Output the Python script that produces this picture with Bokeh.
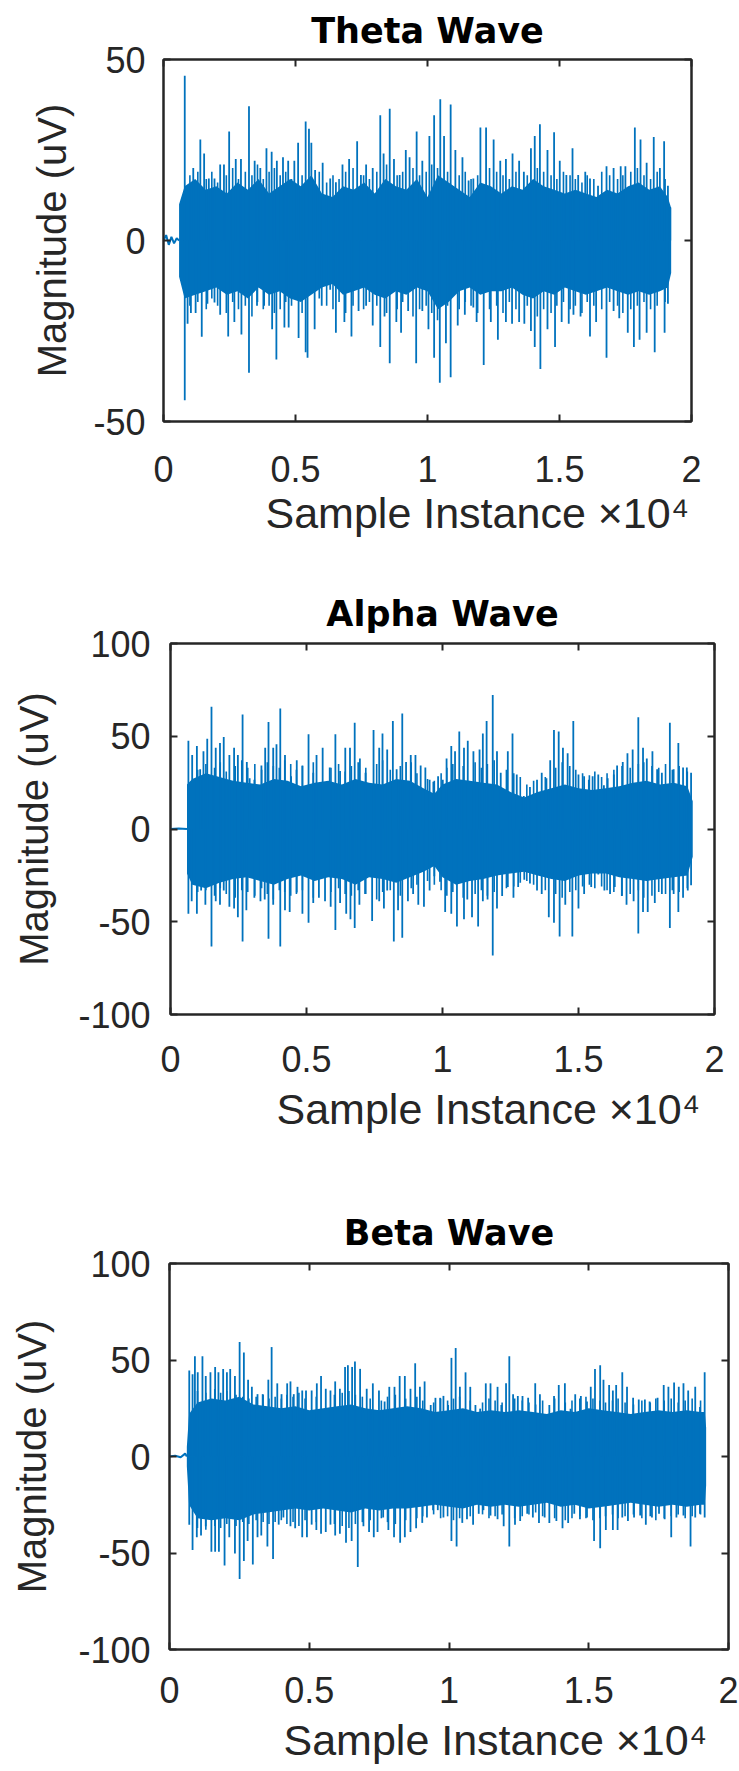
from bokeh.plotting import figure
from bokeh.layouts import column
from bokeh.models import FixedTicker, LinearAxis, Range1d, Title, ColumnDataSource
from bokeh.embed import file_html
from bokeh.resources import INLINE

BLUE = "#0072BD"
AX = "#262626"
FONT = "Liberation Sans"

# ---------------- data ----------------
x_ticks = [0, 5000, 10000, 15000, 20000]
x_tick_labels = ["0", "0.5", "1", "1.5", "2"]

# positions of the many small oscillations just outside the dense band (all three waves)
minor_x = [1000, 1300, 1620, 1830, 2050, 2380, 2620, 2840, 3100, 3350, 3560, 3780, 4000, 4200, 4420, 4630,
           4850, 5250, 5900, 6180, 6420, 6650, 6900, 7180, 7580, 7800, 8080, 8450, 8850, 9060, 9450, 9700,
           9950, 10160, 10380, 10760, 11200, 11430, 11650, 11900, 12350, 12620, 12860, 13100, 13350, 13780,
           14160, 14400, 14680, 14900, 15150, 15400, 15600, 15850, 16050, 16300, 16600, 16900, 17200, 17400,
           17700, 17950, 18200, 18450, 18700, 19000]

# Theta wave
theta_quiet_x = [0, 100, 200, 300, 400, 500, 590]
theta_quiet_y = [0, 1.5, -1.2, 1.0, -0.8, 0.6, 0]
theta_core_x = [590, 800, 1200, 1600, 2000, 2400, 2800, 3200, 3600, 4000, 4400, 4800, 5200, 5600, 6000, 6400,
                6800, 7200, 7600, 8000, 8400, 8800, 9200, 9600, 10000, 10400, 10800, 11200, 11600, 12000, 12400,
                12800, 13200, 13600, 14000, 14400, 14800, 15200, 15600, 16000, 16400, 16800, 17200, 17600, 18000,
                18400, 18800, 19100, 19230]
theta_core_hi = [10, 15, 17, 14, 15, 13, 16, 14, 17, 13, 15, 17, 15, 18, 13, 12,
                 15, 14, 16, 13, 17, 15, 14, 17, 12, 18, 16, 14, 12, 16, 15,
                 13, 15, 14, 17, 15, 14, 13, 14, 13, 12, 14, 13, 15, 16,
                 14, 15, 12, 9]
theta_core_lo = [-10, -16, -15, -14, -13, -15, -14, -16, -13, -15, -14, -16, -17, -15, -13, -12,
                 -15, -14, -13, -15, -16, -14, -15, -13, -14, -19, -17, -14, -13, -15, -14,
                 -14, -13, -15, -16, -14, -15, -13, -14, -15, -14, -13, -14, -15, -14,
                 -15, -14, -13, -9]
theta_minor_hi = [18, 19, 17, 19, 16, 18, 20, 17, 19, 18, 21, 17, 19, 20, 18, 19, 17, 18, 19, 16, 18, 17, 19,
                  20, 18, 17, 19, 21, 18, 19, 20, 18, 19, 21, 20, 19, 18, 19, 17, 18, 20, 19, 18, 17, 19, 18,
                  20, 19, 18, 17, 19, 18, 17, 16, 18, 17, 19, 18, 17, 18, 19, 20, 18, 17, 19, 17]
theta_minor_lo = [-18, -17, -19, -16, -18, -20, -17, -19, -18, -21, -17, -19, -18, -20, -19, -17, -18, -20,
                  -16, -18, -19, -17, -20, -18, -19, -17, -18, -20, -19, -17, -21, -19, -18, -20, -22, -18,
                  -19, -17, -18, -20, -19, -18, -20, -17, -19, -18, -21, -19, -20, -18, -17, -19, -18, -20,
                  -17, -18, -19, -17, -18, -20, -19, -18, -17, -19, -18, -17]
theta_up_x = [805, 1127, 1395, 1539, 1717, 1932, 2147, 2290, 2487, 2737, 2934, 3238, 3453, 3667, 3900, 4097,
              4294, 4526, 4723, 4956, 5099, 5385, 5510, 5600, 5743, 6029, 6315, 6530, 6780, 7031, 7335, 7478,
              7675, 7925, 8211, 8337, 8569, 8730, 8945, 9178, 9321, 9589, 9804, 10072, 10251, 10484, 10627,
              10877, 11056, 11324, 11557, 11736, 12004, 12219, 12505, 12756, 12970, 13221, 13471, 13650,
              13918, 14062, 14258, 14545, 14795, 15010, 15260, 15493, 15708, 15976, 16155, 16459, 16781,
              17049, 17318, 17496, 17854, 18069, 18301, 18570, 18802, 18963, 19107, 19196]
theta_up_y = [45.5, 20.0, 27.9, 24.0, 17.1, 17.1, 21.0, 21.0, 30.1, 22.5, 22.5, 37.1, 22.0, 20.0, 25.5, 24.5,
              22.0, 23.0, 22.0, 22.0, 27.0, 32.9, 30.9, 27.0, 19.5, 21.5, 17.1, 16.1, 21.0, 22.5, 27.4, 18.1,
              21.0, 20.0, 34.6, 24.0, 36.4, 22.5, 18.1, 25.0, 23.0, 30.1, 22.0, 28.9, 34.6, 39.0, 28.9,
              37.6, 25.0, 23.0, 16.6, 17.1, 31.2, 31.2, 27.9, 22.0, 22.5, 24.0, 22.0, 19.0,
              25.5, 28.9, 32.1, 25.0, 29.9, 22.0, 18.1, 25.5, 18.1, 19.0, 17.1, 15.1, 20.5,
              20.0, 20.5, 20.5, 31.2, 27.9, 21.5, 28.6, 20.0, 27.4, 15.1, 9.2]
theta_dn_x = [805, 912, 1038, 1217, 1449, 1664, 1932, 2147, 2451, 2684, 2952, 3238, 3542, 3811, 4115, 4276,
              4580, 4741, 5117, 5385, 5456, 5725, 5993, 6315, 6530, 6852, 7120, 7389, 7675, 7925, 8211, 8372,
              8569, 8820, 8999, 9267, 9571, 9804, 10036, 10251, 10466, 10698, 10877, 11145, 11414, 11736,
              11861, 12129, 12398, 12666, 12970, 13203, 13471, 13668, 13918, 14062, 14276, 14545, 14831,
              15082, 15350, 15529, 15797, 16155, 16387, 16781, 17049, 17264, 17586, 17818, 18033, 18301,
              18606, 18981, 19107]
theta_dn_y = [-44.1, -23.0, -20.0, -20.0, -26.6, -17.5, -17.1, -20.5, -26.5, -22.5, -26.0, -36.5, -18.0, -18.0,
              -24.5, -32.9, -24.0, -24.0, -26.9, -30.9, -32.4, -24.5, -18.0, -13.6, -25.5, -22.5, -26.5, -19.5,
              -18.0, -23.5, -29.4, -21.0, -33.9, -22.5, -25.5, -19.5, -33.9, -19.5, -24.5, -32.4, -39.3, -28.4,
              -37.8, -23.5, -20.5, -18.5, -22.5, -34.4, -22.5, -27.4, -22.5, -23.0, -22.5, -23.0, -25.0, -29.4,
              -35.5, -24.5, -29.4, -22.5, -23.0, -20.5, -21.0, -26.5, -22.5, -32.4, -19.5, -21.5, -25.5, -29.4,
              -27.4, -25.5, -30.9, -25.5, -17.5]

# Alpha wave
alpha_quiet_x = [0, 300, 606]
alpha_quiet_y = [0, 0.3, 0]
alpha_core_x = [606, 800, 1300, 1800, 2300, 2800, 3300, 3800, 4300, 4800, 5300, 5800, 6300, 6800, 7300, 7800,
                8300, 8800, 9300, 9700, 10000, 10500, 11000, 11500, 12000, 12500, 13000, 13500, 14000, 14500,
                15000, 15500, 16000, 16500, 17000, 17500, 18000, 18500, 19000, 19200]
alpha_core_hi = [24, 27, 30, 28, 26, 25, 24, 27, 26, 23, 25, 26, 24, 27, 25, 24,
                 27, 26, 22, 19, 24, 27, 26, 25, 24, 20, 17, 20, 22, 24,
                 22, 21, 22, 23, 25, 26, 24, 25, 23, 15]
alpha_core_lo = [-24, -30, -32, -29, -27, -26, -28, -30, -27, -25, -28, -26, -27, -30, -26, -27,
                 -29, -26, -23, -20, -26, -30, -28, -27, -25, -24, -23, -25, -27, -28,
                 -25, -24, -24, -26, -27, -28, -27, -26, -25, -15]
alpha_minor_hi = [32, 35, 33, 36, 31, 34, 37, 33, 35, 32, 36, 34, 33, 37, 35, 32, 34, 36, 33, 35, 31, 34, 36,
                  33, 35, 37, 32, 34, 36, 30, 27, 26, 30, 33, 35, 34, 36, 33, 35, 37, 32, 30, 28, 24, 26, 28,
                  33, 36, 34, 32, 30, 29, 31, 28, 30, 32, 34, 33, 35, 36, 34, 33, 35, 32, 34, 31]
alpha_minor_lo = [-34, -33, -36, -32, -35, -37, -33, -34, -36, -32, -35, -38, -33, -34, -36, -35, -33, -37,
                  -34, -32, -35, -36, -33, -35, -38, -34, -33, -36, -32, -30, -28, -30, -33, -36, -34, -37,
                  -35, -33, -36, -34, -32, -31, -29, -28, -30, -33, -35, -37, -34, -33, -31, -30, -32, -31,
                  -33, -34, -36, -35, -33, -37, -36, -34, -35, -33, -34, -32]
alpha_up_x = [658, 797, 970, 1091, 1212, 1351, 1507, 1663, 1819, 1957, 2165, 2338, 2477, 2650, 2806, 2910,
              3083, 3343, 3481, 3603, 3776, 3897, 4036, 4209, 4434, 4642, 4850, 5075, 5248, 5369, 5594, 5854,
              6062, 6235, 6426, 6599, 6772, 6963, 7170, 7465, 7673, 7794, 7967, 8175, 8314, 8521, 8660, 8833,
              9006, 9197, 9370, 9526, 9665, 9838, 10011, 10150, 10323, 10461, 10617, 10790, 10929, 11137,
              11362, 11483, 11622, 11847, 12003, 12141, 12401, 12574, 12730, 12990, 13215, 13475, 13648,
              13821, 13960, 14098, 14272, 14428, 14601, 14809, 14999, 15207, 15380, 15519, 15727, 15934,
              16073, 16298, 16419, 16627, 16800, 16991, 17199, 17372, 17511, 17718, 17891, 18065, 18359,
              18498, 18671, 18844, 18983, 19139]
alpha_up_y = [47.6, 39.9, 44.8, 32.2, 41.9, 48.6, 65.9, 43.8, 46.3, 49.6, 39.9, 43.8, 39.9, 61.7, 36.1, 27.4,
              26.5, 34.2, 43.8, 57.7, 43.8, 45.7, 65.0, 39.9, 28.4, 37.1, 34.2, 51.1, 30.3, 39.9, 43.8, 33.2,
              51.1, 31.3, 43.8, 43.8, 57.3, 38.0, 30.3, 53.4, 43.8, 51.5, 42.8, 58.2, 32.2, 62.3, 36.1, 39.9,
              39.9, 34.2, 33.2, 26.5, 25.5, 28.4, 26.5, 38.0, 44.8, 41.9, 52.5, 43.8, 47.6, 41.9,
              42.8, 51.5, 58.2, 72.3, 41.9, 30.3, 41.9, 51.5, 29.4, 17.8, 22.6, 26.5, 30.3,
              27.4, 37.1, 53.4, 52.5, 43.8, 40.9, 58.2, 29.4, 28.4, 26.5, 28.4, 29.4, 23.6,
              27.4, 29.4, 34.2, 36.1, 40.9, 42.8, 60.2, 43.8, 38.0, 41.9, 32.2, 30.3, 57.3,
              32.2, 46.3, 33.2, 33.2, 30.3]
alpha_dn_x = [658, 779, 970, 1126, 1282, 1507, 1663, 1819, 1957, 2165, 2338, 2477, 2650, 2789, 3083, 3308,
              3464, 3603, 3776, 4036, 4209, 4382, 4642, 4850, 5075, 5248, 5456, 5681, 5889, 6062, 6235, 6460,
              6616, 6772, 6945, 7153, 7413, 7673, 7846, 7967, 8210, 8366, 8521, 8729, 8920, 9110, 9318, 9526,
              9699, 9907, 10098, 10323, 10531, 10790, 10912, 11085, 11310, 11483, 11656, 11847, 12003, 12193,
              12401, 12609, 12782, 13007, 13215, 13475, 13648, 13908, 14098, 14306, 14514, 14774, 14999,
              15207, 15467, 15727, 15952, 16160, 16333, 16593, 16766, 17026, 17199, 17372, 17545, 17805,
              18065, 18359, 18498, 18671, 18844, 19017, 19139]
alpha_dn_y = [-45.7, -39.0, -45.7, -33.2, -40.9, -63.4, -39.0, -40.9, -33.2, -41.9, -42.8, -47.6, -60.7, -43.8,
              -37.1, -39.0, -38.0, -59.2, -40.9, -63.4, -43.8, -44.8, -34.2, -45.7, -50.5, -39.9, -37.1, -39.0,
              -41.9, -54.4, -39.9, -45.7, -48.6, -53.4, -40.9, -35.1, -49.6, -39.0, -42.8, -33.2, -60.7, -43.8,
              -58.6, -39.0, -35.1, -40.9, -41.9, -33.2, -25.5, -28.4, -44.8, -45.7, -52.5, -48.6, -38.0, -47.6,
              -52.5, -39.0, -38.0, -68.2, -42.8, -36.1, -31.3, -37.1, -31.3, -27.4, -29.4, -33.2, -35.1, -47.6,
              -50.5, -57.9, -40.9, -57.9, -42.8, -35.1, -31.3, -24.5, -33.2, -35.1, -31.3, -36.1, -40.9, -39.0,
              -56.3, -44.8, -44.8, -39.9, -35.1, -53.4, -35.1, -44.8, -37.1, -33.2, -30.3]

# Beta wave
beta_quiet_x = [0, 200, 400, 560, 620]
beta_quiet_y = [0, 0.4, -0.4, 1.5, 0]
beta_core_x = [620, 700, 1000, 1500, 2000, 2500, 3000, 3500, 4000, 4500, 5000, 5500, 6000, 6500, 7000, 7500,
               8000, 8500, 9000, 9500, 10000, 10500, 11000, 11500, 12000, 12500, 13000, 13500, 14000, 14500,
               15000, 15500, 16000, 16500, 17000, 17500, 18000, 18500, 19000, 19150, 19200]
beta_core_hi = [5, 22, 28, 30, 29, 31, 27, 26, 25, 26, 24, 25, 26, 27, 25, 24,
                25, 26, 25, 23, 24, 25, 23, 24, 23, 24, 23, 22, 24, 23,
                25, 24, 23, 22, 23, 24, 23, 24, 23, 23, 15]
beta_core_lo = [-5, -25, -32, -33, -32, -33, -30, -29, -28, -27, -28, -27, -28, -29, -27, -28,
                -27, -27, -26, -25, -26, -27, -25, -26, -25, -26, -25, -24, -26, -25,
                -27, -26, -25, -24, -25, -26, -25, -26, -25, -25, -15]
beta_minor_hi = [34, 33, 35, 33, 34, 32, 31, 30, 31, 32, 30, 31, 30, 32, 31, 33, 30, 31, 32, 33, 34, 32, 31,
                 30, 29, 31, 32, 30, 31, 29, 28, 30, 29, 30, 31, 29, 28, 30, 29, 28, 30, 29, 28, 27, 29, 30,
                 28, 29, 30, 31, 30, 29, 28, 29, 30, 28, 27, 29, 28, 30, 29, 30, 28, 29, 30, 29]
beta_minor_lo = [-37, -38, -36, -37, -35, -36, -34, -35, -33, -34, -35, -34, -33, -35, -34, -36, -33, -34,
                 -35, -36, -37, -35, -34, -33, -32, -34, -35, -33, -32, -31, -30, -32, -31, -33, -32, -31,
                 -30, -32, -31, -30, -32, -31, -30, -29, -31, -32, -33, -32, -31, -32, -33, -32, -31, -30,
                 -32, -31, -30, -32, -31, -33, -32, -31, -30, -32, -31, -30]
beta_up_x = [707, 825, 909, 1010, 1179, 1297, 1465, 1633, 1751, 1920, 2054, 2172, 2341, 2509, 2661, 2812, 2947,
             3149, 3334, 3536, 3654, 3856, 4008, 4210, 4328, 4446, 4580, 4749, 4884, 5086, 5271, 5422, 5591,
             5759, 5928, 6096, 6281, 6382, 6534, 6635, 6820, 6938, 7056, 7275, 7494, 7696, 7864, 8050, 8235,
             8420, 8622, 8790, 8959, 9127, 9346, 9515, 9683, 9801, 9969, 10087, 10239, 10390, 10592, 10761,
             10946, 11114, 11316, 11485, 11737, 11872, 12041, 12158, 12293, 12462, 12630, 12832, 13085, 13253,
             13422, 13590, 13758, 13927, 14146, 14348, 14516, 14718, 14937, 15072, 15223, 15409, 15527, 15729,
             15863, 15981, 16200, 16369, 16587, 16789, 17008, 17177, 17463, 17682, 17850, 18053, 18221, 18389,
             18558, 18810, 18979, 19147]
beta_up_y = [44.5, 42.6, 52.0, 43.6, 52.0, 41.7, 43.6, 46.4, 43.6, 45.4, 43.6, 45.4, 41.7, 59.3, 53.9, 39.8, 36.1,
             32.3, 32.3, 39.8, 56.7, 37.9, 32.3, 37.9, 38.9, 32.3, 36.1, 34.2, 34.2, 34.2, 37.9, 41.7, 35.1,
             34.2, 38.9, 35.1, 46.4, 47.3, 46.4, 49.2, 45.4, 22.9, 35.1, 37.9, 34.2, 28.5, 36.1, 36.1, 41.7,
             41.7, 35.1, 48.3, 36.1, 38.9, 26.7, 30.4, 30.4, 31.4, 26.7, 51.1, 56.2, 36.1, 43.6, 36.1,
             26.7, 24.8, 37.9, 37.9, 36.1, 26.7, 37.9, 52.0, 32.3, 31.4, 31.4, 30.4, 37.9, 32.3,
             21.0, 26.7, 31.4, 37.0, 37.9, 24.8, 32.3, 31.4, 28.5, 36.1, 45.4, 47.3, 39.8, 37.0,
             34.2, 37.0, 43.6, 36.1, 30.4, 29.5, 29.5, 28.5, 30.4, 37.0, 36.1, 38.3, 36.1, 37.9,
             34.2, 36.1, 25.7, 43.6]
beta_dn_x = [707, 825, 977, 1128, 1297, 1499, 1633, 1768, 1970, 2139, 2341, 2509, 2661, 2795, 2981, 3149, 3284,
             3503, 3705, 3907, 4075, 4328, 4496, 4749, 4917, 5086, 5254, 5422, 5591, 5759, 5928, 6096, 6315,
             6517, 6736, 6938, 7140, 7309, 7443, 7645, 7831, 8033, 8252, 8420, 8622, 8824, 9043, 9211, 9430,
             9599, 9801, 10087, 10272, 10475, 10643, 10862, 11064, 11232, 11485, 11737, 11956, 12158, 12361,
             12546, 12798, 13000, 13219, 13422, 13590, 13842, 14061, 14263, 14482, 14685, 14937, 15190, 15409,
             15611, 15863, 16032, 16200, 16402, 16621, 16840, 17042, 17261, 17514, 17716, 17951, 18137, 18389,
             18642, 18810, 18979, 19147]
beta_dn_y = [-35.3, -48.5, -41.9, -40.9, -36.2, -49.4, -49.4, -49.4, -56.5, -41.9, -50.3, -63.5, -54.1, -43.8,
             -56.0, -41.9, -40.9, -46.6, -53.1, -35.3, -31.6, -36.2, -37.2, -41.9, -41.9, -35.3, -38.1, -40.0,
             -39.1, -35.3, -40.9, -40.0, -44.7, -43.8, -57.3, -36.2, -39.1, -41.9, -39.1, -31.6, -38.1, -41.9,
             -44.7, -41.9, -39.1, -37.2, -34.4, -31.6, -27.8, -27.8, -31.6, -43.8, -46.6, -34.4, -32.5, -35.3,
             -29.7, -27.8, -30.6, -32.5, -36.2, -46.6, -35.3, -33.4, -29.7, -31.6, -34.4, -31.6, -34.4, -33.4,
             -37.2, -34.4, -29.7, -32.5, -31.6, -43.8, -47.5, -38.1, -38.1, -38.1, -31.6, -33.4, -31.6, -30.6,
             -35.3, -31.6, -29.7, -32.5, -41.9, -31.6, -30.6, -46.6, -31.6, -29.7, -31.6]

# ---------------- layout (page pixel geometry) ----------------
FIG_W = 739
panels = [
    dict(title="Theta Wave", ylim=(-50, 50), yticks=[-50, 0, 50],
         quiet=(theta_quiet_x, theta_quiet_y), core=(theta_core_x, theta_core_lo, theta_core_hi),
         minor=(theta_minor_lo, theta_minor_hi),
         up=(theta_up_x, theta_up_y), dn=(theta_dn_x, theta_dn_y),
         fig_top=0, fig_h=560, frame=(163, 59, 691, 421),
         title_standoff=14, xstand=34, ystand=18, ylab_stand=16, xlab_offset=102, xlab_standoff=5),
    dict(title="Alpha Wave", ylim=(-100, 100), yticks=[-100, -50, 0, 50, 100],
         quiet=(alpha_quiet_x, alpha_quiet_y), core=(alpha_core_x, alpha_core_lo, alpha_core_hi),
         minor=(alpha_minor_lo, alpha_minor_hi),
         up=(alpha_up_x, alpha_up_y), dn=(alpha_dn_x, alpha_dn_y),
         fig_top=560, fig_h=640, frame=(170, 643, 714, 1014),
         title_standoff=16, xstand=31, ystand=20, ylab_stand=19, xlab_offset=106, xlab_standoff=17),
    dict(title="Beta Wave", ylim=(-100, 100), yticks=[-100, -50, 0, 50, 100],
         quiet=(beta_quiet_x, beta_quiet_y), core=(beta_core_x, beta_core_lo, beta_core_hi),
         minor=(beta_minor_lo, beta_minor_hi),
         up=(beta_up_x, beta_up_y), dn=(beta_dn_x, beta_dn_y),
         fig_top=1200, fig_h=571, frame=(169, 1263, 728, 1653),
         title_standoff=18, xstand=27, ystand=19, ylab_stand=21, xlab_offset=114, xlab_standoff=16),
]


def style_axis(ax, labels=True, standoff=0):
    ax.axis_line_color = AX
    ax.axis_line_width = 2
    ax.major_tick_in = 7
    ax.major_tick_out = 0
    ax.major_tick_line_color = AX
    ax.major_tick_line_width = 2
    ax.minor_tick_line_color = None
    ax.major_label_text_font = FONT
    if labels:
        ax.major_label_text_color = AX
        ax.major_label_text_font_size = "36px"
        ax.major_label_standoff = standoff
    else:
        ax.major_label_text_color = None
        ax.major_label_text_font_size = "1px"
        ax.major_label_standoff = 0


figs = []
for s in panels:
    fl, ft, fr, fb = s["frame"]
    y0, y1 = s["ylim"]
    L = fl
    T = ft - s["fig_top"]
    R = FIG_W - fr
    B = s["fig_h"] - (fb - s["fig_top"])
    title = Title(text=s["title"], align="center", vertical_align="top", text_font="DejaVu Sans",
                  text_font_style="bold", text_font_size="35px", text_color="black",
                  standoff=s["title_standoff"])
    p = figure(width=FIG_W, height=s["fig_h"], x_range=Range1d(x_ticks[0], x_ticks[-1]),
               y_range=Range1d(y0, y1), title=title,
               output_backend="svg", toolbar_location=None, x_axis_type=None, y_axis_type=None,
               min_border_left=L, min_border_right=R, min_border_top=T, min_border_bottom=B)
    try:
        p.frame_align = False
    except Exception:
        pass
    p.grid.visible = False
    p.outline_line_color = AX
    p.outline_line_width = 2
    p.background_fill_color = "white"
    p.border_fill_color = "white"

    xlab = {t: l for t, l in zip(x_ticks, x_tick_labels)}
    ylab = {t: str(t) for t in s["yticks"]}

    xb = LinearAxis(ticker=FixedTicker(ticks=x_ticks), major_label_overrides=xlab)
    style_axis(xb, True, s["xstand"])
    p.add_layout(xb, "below")
    xa = LinearAxis(ticker=FixedTicker(ticks=x_ticks))
    style_axis(xa, False)
    p.add_layout(xa, "above")
    yl = LinearAxis(ticker=FixedTicker(ticks=s["yticks"]), major_label_overrides=ylab,
                    axis_label="Magnitude (uV)")
    style_axis(yl, True, s["ystand"])
    yl.axis_label_text_font = FONT
    yl.axis_label_text_font_size = "40px"
    yl.axis_label_text_font_style = "normal"
    yl.axis_label_text_color = AX
    yl.axis_label_standoff = s["ylab_stand"]
    p.add_layout(yl, "left")
    yr = LinearAxis(ticker=FixedTicker(ticks=s["yticks"]))
    style_axis(yr, False)
    p.add_layout(yr, "right")

    xt = Title(text="Sample Instance \u00d710\u2074", align="left", offset=s["xlab_offset"],
               vertical_align="bottom", text_font=FONT, text_font_size="43px", text_font_style="normal",
               text_color=AX, standoff=s["xlab_standoff"])
    p.add_layout(xt, "below")

    qx, qy = s["quiet"]
    p.line(qx, qy, line_color=BLUE, line_width=2)
    cx, clo, chi = s["core"]
    p.varea(x=cx, y1=clo, y2=chi, fill_color=BLUE)
    mlo, mhi = s["minor"]
    msrc = ColumnDataSource(dict(x=minor_x, lo=mlo, hi=mhi))
    p.segment(x0="x", y0="lo", x1="x", y1="hi", source=msrc, line_color=BLUE, line_width=1.6)
    for key in ("up", "dn"):
        xs, ys = s[key]
        src = ColumnDataSource(dict(x=xs, y=ys, z=[0] * len(xs)))
        p.segment(x0="x", y0="z", x1="x", y1="y", source=src, line_color=BLUE, line_width=1.8)
    figs.append(p)

layout = column(*figs, spacing=0)
open("out.html", "w").write(file_html(layout, INLINE))
